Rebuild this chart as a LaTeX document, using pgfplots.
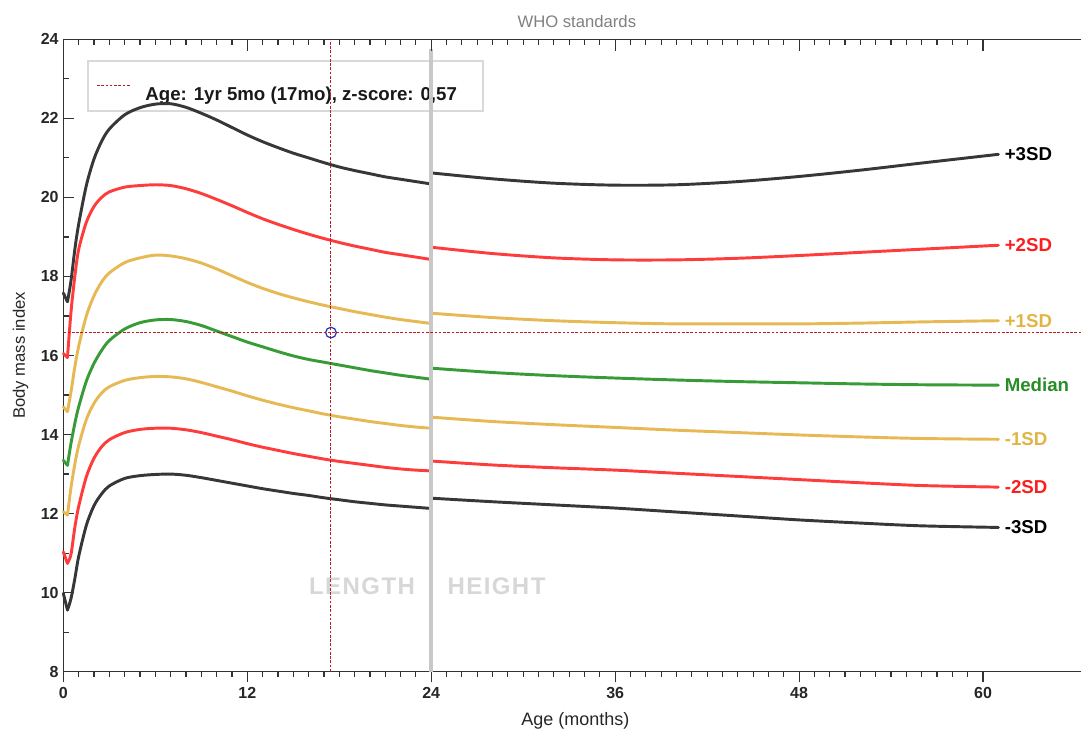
\documentclass[border=0pt]{standalone}
\usepackage{pgfplots}
\pgfplotsset{compat=1.18}
\usepackage{pgfplotstable}
\usepackage{fontspec}
\setmainfont{Liberation Sans}

\definecolor{cBlack}{RGB}{55,55,55}
\definecolor{cRed}{RGB}{255,60,60}
\definecolor{cGold}{RGB}{230,185,85}
\definecolor{cGreen}{RGB}{55,155,55}
\definecolor{cCross}{RGB}{185,30,40}
\definecolor{cCircle}{RGB}{45,45,170}
\definecolor{cBar}{RGB}{200,200,200}
\definecolor{cWatermark}{RGB}{215,215,215}
\definecolor{lRed}{RGB}{250,30,30}
\definecolor{lGold}{RGB}{225,180,70}
\definecolor{lGreen}{RGB}{40,140,40}

% first week (sharp dip)
\pgfplotstableread{
x    p3    p2    p1    m     m1    m2    m3
0    17.58 16.05 14.70 13.35 12.05 11.03 9.98
0.27 17.36 15.95 14.58 13.22 11.96 10.74 9.56
}\Vt

% length, 0-24 months
\pgfplotstableread{
x    p3    p2    p1    m     m1    m2    m3
0.27 17.36 15.95 14.58 13.22 11.96 10.74 9.56
0.5  17.89 17.10 15.08 13.78 12.66 10.97 9.85
0.75 18.68 18.00 15.71 14.28 13.25 11.65 10.35
1    19.32 18.68 16.23 14.70 13.72 12.18 10.91
1.5  20.30 19.37 17.00 15.35 14.38 12.93 11.70
2    20.97 19.77 17.51 15.80 14.79 13.40 12.20
2.5  21.42 20.00 17.86 16.13 15.05 13.69 12.50
3    21.73 20.14 18.09 16.38 15.21 13.87 12.70
4    22.09 20.26 18.35 16.67 15.37 14.05 12.89
5    22.27 20.30 18.47 16.83 15.44 14.13 12.96
6    22.36 20.32 18.54 16.90 15.47 14.16 12.99
7    22.37 20.30 18.52 16.91 15.46 14.16 13.00
8    22.28 20.22 18.45 16.86 15.41 14.12 12.97
9    22.13 20.10 18.34 16.76 15.32 14.05 12.91
10   21.96 19.95 18.19 16.62 15.21 13.96 12.84
11   21.77 19.79 18.02 16.48 15.10 13.87 12.77
12   21.58 19.62 17.85 16.34 14.98 13.77 12.70
13   21.41 19.46 17.70 16.22 14.87 13.68 12.63
14   21.26 19.32 17.57 16.10 14.77 13.60 12.57
15   21.12 19.19 17.46 15.99 14.68 13.52 12.51
16   21.00 19.07 17.36 15.90 14.60 13.45 12.46
17   20.88 18.96 17.27 15.83 14.52 13.38 12.40
18   20.77 18.86 17.19 15.76 14.45 13.32 12.35
19   20.68 18.77 17.11 15.69 14.39 13.27 12.30
20   20.60 18.69 17.04 15.62 14.33 13.22 12.26
21   20.52 18.61 16.97 15.56 14.28 13.17 12.22
22   20.46 18.55 16.91 15.50 14.23 13.13 12.19
23   20.40 18.49 16.86 15.45 14.19 13.10 12.16
24   20.34 18.43 16.81 15.40 14.16 13.08 12.13
}\Lt

% height, 24-61 months
\pgfplotstableread{
x    p3    p2    p1    m     m1    m2    m3
24   20.62 18.74 17.07 15.68 14.44 13.33 12.39
28   20.47 18.58 16.96 15.57 14.33 13.23 12.30
32   20.36 18.47 16.88 15.49 14.25 13.16 12.22
36   20.31 18.42 16.83 15.43 14.18 13.10 12.14
40   20.32 18.42 16.80 15.38 14.11 13.02 12.04
44   20.40 18.46 16.80 15.34 14.05 12.94 11.94
48   20.53 18.53 16.80 15.31 13.99 12.86 11.84
52   20.69 18.61 16.82 15.28 13.94 12.78 11.76
56   20.87 18.69 16.85 15.26 13.90 12.71 11.69
61   21.09 18.79 16.88 15.25 13.88 12.67 11.65
}\Rt

\pgfplotsset{
  curve/.style={line width=2.2pt, line join=round, line cap=round},
}
\newcommand{\sdfont}{\bfseries\fontsize{14}{16}\selectfont}
\newcommand{\wmfont}{\bfseries\fontsize{18}{20}\selectfont\addfontfeature{LetterSpace=6}}

\begin{document}
\begin{tikzpicture}
\begin{axis}[
  name=main,
  scale only axis, width=763.3pt, height=474.3pt,
  xmin=0, xmax=66.39, ymin=8, ymax=24,
  axis x line*=bottom, axis y line*=left,
  xtick={0,12,...,60}, ytick={8,10,...,24},
  minor x tick num=11, minor y tick num=1,
  xtick align=outside, ytick align=inside,
  major tick length=8pt, minor tick length=4pt,
  tick style={black!80, line width=0.9pt},
  axis line style={black!80, line width=1.1pt},
  ticklabel style={font=\bfseries\fontsize{12}{14}\selectfont, text=black!85},
  /pgf/number format/assume math mode=true,
  clip=false,
]
% legend box (drawn first, under the curves)
\draw[black!15, line width=0.9pt, fill=white] (rel axis cs:0.0243,0.9657) rectangle (rel axis cs:0.4124,0.8866);
\draw[cCross, line width=0.75pt, dash pattern=on 2pt off 1.2pt] (rel axis cs:0.0331,0.9277) -- (rel axis cs:0.0655,0.9277);
\node[anchor=west, inner sep=0pt, font=\bfseries\fontsize{14}{16}\selectfont, text=black!90] at (rel axis cs:0.0804,0.9110) {Age: 1yr 5mo (17mo), z-score: 0,57};

% +3SD
\addplot[cBlack, curve] table[x=x,y=p3]{\Vt};
\addplot[cBlack, curve, smooth] table[x=x,y=p3]{\Lt};
\addplot[cBlack, curve, smooth] table[x=x,y=p3]{\Rt};
% +2SD
\addplot[cRed, curve] table[x=x,y=p2]{\Vt};
\addplot[cRed, curve, smooth] table[x=x,y=p2]{\Lt};
\addplot[cRed, curve, smooth] table[x=x,y=p2]{\Rt};
% +1SD
\addplot[cGold, curve] table[x=x,y=p1]{\Vt};
\addplot[cGold, curve, smooth] table[x=x,y=p1]{\Lt};
\addplot[cGold, curve, smooth] table[x=x,y=p1]{\Rt};
% Median
\addplot[cGreen, curve] table[x=x,y=m]{\Vt};
\addplot[cGreen, curve, smooth] table[x=x,y=m]{\Lt};
\addplot[cGreen, curve, smooth] table[x=x,y=m]{\Rt};
% -1SD
\addplot[cGold, curve] table[x=x,y=m1]{\Vt};
\addplot[cGold, curve, smooth] table[x=x,y=m1]{\Lt};
\addplot[cGold, curve, smooth] table[x=x,y=m1]{\Rt};
% -2SD
\addplot[cRed, curve] table[x=x,y=m2]{\Vt};
\addplot[cRed, curve, smooth] table[x=x,y=m2]{\Lt};
\addplot[cRed, curve, smooth] table[x=x,y=m2]{\Rt};
% -3SD
\addplot[cBlack, curve] table[x=x,y=m3]{\Vt};
\addplot[cBlack, curve, smooth] table[x=x,y=m3]{\Lt};
\addplot[cBlack, curve, smooth] table[x=x,y=m3]{\Rt};

% length / height divider
\addplot[cBar, line width=3.4pt] coordinates {(24,8) (24,23.75)};

% watermark texts
\node[anchor=east, inner sep=0pt, font=\wmfont, text=cWatermark] at (axis cs:22.96,10.15) {LENGTH};
\node[anchor=west, inner sep=0pt, font=\wmfont, text=cWatermark] at (axis cs:25.05,10.15) {HEIGHT};

% crosshair and measured point
\addplot[cCross, line width=0.75pt, dash pattern=on 2pt off 1.2pt] coordinates {(17.46,8) (17.46,24)};
\addplot[cCross, line width=0.75pt, dash pattern=on 2pt off 1.2pt] coordinates {(0,16.58) (66.39,16.58)};
\addplot[only marks, mark=o, mark size=4pt, mark options={cCircle, line width=0.9pt}] coordinates {(17.46,16.58)};

% curve labels
\node[anchor=west, inner sep=0pt, font=\sdfont, text=black] at (axis cs:61.4,21.09) {+3SD};
\node[anchor=west, inner sep=0pt, font=\sdfont, text=lRed] at (axis cs:61.4,18.79) {+2SD};
\node[anchor=west, inner sep=0pt, font=\sdfont, text=lGold] at (axis cs:61.4,16.88) {+1SD};
\node[anchor=west, inner sep=0pt, font=\sdfont, text=lGreen] at (axis cs:61.4,15.25) {Median};
\node[anchor=west, inner sep=0pt, font=\sdfont, text=lGold] at (axis cs:61.4,13.88) {-1SD};
\node[anchor=west, inner sep=0pt, font=\sdfont, text=lRed] at (axis cs:61.4,12.67) {-2SD};
\node[anchor=west, inner sep=0pt, font=\sdfont, text=black] at (axis cs:61.4,11.65) {-3SD};

% title and axis labels
\node[font=\fontsize{12.5}{14}\selectfont, text=black!50] at ([yshift=13pt]axis cs:33.5,24) {WHO standards};
\node[font=\fontsize{13.5}{15}\selectfont, text=black!85] at ([yshift=-37pt]axis cs:33.4,8) {Age (months)};
\node[font=\fontsize{12.5}{14}\selectfont, text=black!85, rotate=90] at ([xshift=-32pt]axis cs:0,16) {Body mass index};
\end{axis}

% top spine with inward ticks
\begin{axis}[
  scale only axis, width=763.3pt, height=474.3pt,
  xmin=0, xmax=66.39, ymin=8, ymax=24,
  axis x line*=top, axis y line=none,
  xtick={0,12,...,60}, minor x tick num=11, xticklabels={},
  xtick align=inside,
  major tick length=8.5pt, minor tick length=4.5pt,
  tick style={black!80, line width=0.9pt},
  axis line style={black!80, line width=1.1pt},
]
\end{axis}

\pgfresetboundingbox
\path[use as bounding box] ([shift={(-47.5pt,-47.5pt)}]main.south west) rectangle ([shift={(0.75pt,29.5pt)}]main.north east);
\end{tikzpicture}
\end{document}
